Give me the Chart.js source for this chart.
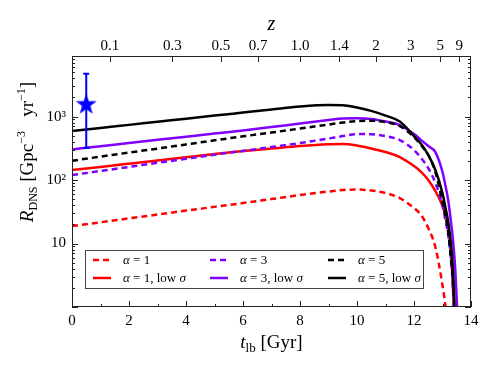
<!DOCTYPE html>
<html lang="en">
<head>
<meta charset="UTF-8">
<title>DNS merger rate vs lookback time</title>
<script src="https://cdn.jsdelivr.net/npm/chart.js"></script>
<style>
  body { margin: 0; background: #fff; }
  #wrap { position: relative; width: 491px; height: 370px; }
</style>
</head>
<body>
<div id="wrap"><canvas id="rate" width="491" height="370"></canvas></div>
<script>
// lookback time grid [Gyr]
const tLb = [0, 1, 2, 3, 4, 5, 6, 7, 8, 9, 9.5, 10, 10.5, 11, 11.5, 12, 12.25, 12.5, 12.75, 13, 13.1, 13.2, 13.3, 13.35, 13.4, 13.45, 13.5, 13.55];

// merger rate [Gpc^-3 yr^-1]
const rateA1    = [18.9, 21.6, 24.9, 28.6, 33, 37.8, 43.4, 50.2, 58, 65.9, 69.6, 70.9, 68.4, 62.4, 52.1, 36.2, 28.1, 17.5, 8.8, 2.2, 1.07, 0.43, 0.2, 0.1, 0.05, 0.03, 0.02, 0.01];
const rateA1Low = [144, 161, 181, 204, 229, 257, 286, 313, 343, 365, 369, 349, 313, 276, 230, 166, 134, 100, 67, 39, 28, 17.5, 6.6, 3.2, 0.9, 0.2, 0.1, 0.05];
const rateA3    = [120, 139, 161, 187, 216, 251, 288, 331, 383, 451, 493, 530, 525, 493, 427, 297, 222, 154, 90, 40, 23.4, 13.6, 5.5, 2.66, 0.9, 0.2, 0.1, 0.05];
const rateA3Low = [304, 342, 383, 430, 482, 540, 604, 684, 777, 881, 931, 937, 914, 834, 735, 529, 426, 343, 276, 134, 83, 48, 21.6, 13.5, 7.8, 3.8, 1.29, 0.3];
const rateA5    = [201, 234, 271, 313, 364, 422, 488, 560, 648, 748, 805, 850, 859, 819, 708, 476, 356, 248, 134, 45, 28, 15.2, 5.5, 3.2, 1.29, 0.3, 0.1, 0.05];
const rateA5Low = [592, 661, 740, 828, 927, 1037, 1156, 1289, 1436, 1517, 1506, 1386, 1230, 1037, 834, 493, 369, 248, 144, 62, 37.6, 21.8, 9.5, 5.1, 1.85, 0.43, 0.1, 0.05];

// observed rate (star) with error bar
const obsT = [0.5];
const obsRate = [1540];
const obsLo = [320];
const obsHi = [4740];

// top axis: redshift labels at their lookback times
const zLabels = ['0.1', '0.3', '0.5', '0.7', '1.0', '1.4', '2', '3', '5', '9'];
const zAtT = [1.33, 3.52, 5.22, 6.53, 8.0, 9.38, 10.67, 11.89, 12.92, 13.59];

const RED = '#ff0000', PURPLE = '#7f00ff', BLACK = '#000000', BLUE = '#0000ff';
const DASH = [6, 4];
const SERIF = "'Liberation Serif', serif";

const pts = vals => tLb.map((t, i) => ({ x: t, y: vals[i] }));

function line(label, vals, color, dash) {
  return {
    label, data: pts(vals), borderColor: color, borderWidth: 2.5,
    borderDash: dash, pointRadius: 0, fill: false,
    cubicInterpolationMode: 'monotone', clip: 0
  };
}

function starImage(size, color) {
  const c = document.createElement('canvas');
  c.width = c.height = size;
  const g = c.getContext('2d');
  const r = size / 2, ri = r * 0.4;
  g.beginPath();
  for (let i = 0; i < 10; i++) {
    const rad = i % 2 ? ri : r;
    const ang = -Math.PI / 2 + i * Math.PI / 5;
    g.lineTo(r + rad * Math.cos(ang), r + rad * Math.sin(ang));
  }
  g.closePath();
  g.fillStyle = color;
  g.fill();
  return c;
}

// text with italic / sub / superscript pieces
function rich(ctx, segs, x, y, align) {
  const fontOf = s => (s.it ? 'italic ' : '') + s.sz + 'px ' + SERIF;
  let w = 0;
  segs.forEach(s => { ctx.font = fontOf(s); w += ctx.measureText(s.t).width; });
  let cx = align === 'center' ? x - w / 2 : x;
  ctx.textAlign = 'left';
  ctx.textBaseline = 'alphabetic';
  segs.forEach(s => {
    ctx.font = fontOf(s);
    ctx.fillText(s.t, cx, y + (s.dy || 0));
    cx += ctx.measureText(s.t).width;
  });
}

const legendRows = [
  [{ name: '1', color: RED, dash: DASH }, { name: '3', color: PURPLE, dash: DASH }, { name: '5', color: BLACK, dash: DASH }],
  [{ name: '1', low: true, color: RED, dash: [] }, { name: '3', low: true, color: PURPLE, dash: [] }, { name: '5', low: true, color: BLACK, dash: [] }]
];
const legendCols = [93, 210, 328];

const decor = {
  id: 'decor',
  beforeDatasetDraw(chart, args) {
    if (chart.data.datasets[args.index].label !== 'obs') return;
    const { ctx, scales: { x, y } } = chart;
    ctx.save();
    ctx.strokeStyle = BLUE;
    ctx.lineWidth = 2;
    obsT.forEach((t, i) => {
      const px = x.getPixelForValue(t);
      const top = y.getPixelForValue(obsHi[i]), bot = y.getPixelForValue(obsLo[i]);
      ctx.beginPath();
      ctx.moveTo(px, top); ctx.lineTo(px, bot);
      ctx.moveTo(px - 3, top); ctx.lineTo(px + 3, top);
      ctx.moveTo(px - 3, bot); ctx.lineTo(px + 3, bot);
      ctx.stroke();
    });
    ctx.restore();
  },
  afterDraw(chart) {
    const { ctx, chartArea: a, scales: { x, y } } = chart;
    ctx.save();
    ctx.strokeStyle = '#222';
    ctx.lineWidth = 1;
    ctx.strokeRect(a.left + 0.5, a.top + 0.5, a.right - a.left - 1, a.bottom - a.top - 1);
    ctx.beginPath();
    for (let t = 0; t <= 14; t++) {
      const px = Math.round(x.getPixelForValue(t)) + 0.5;
      const len = t % 2 ? 3 : 6;
      ctx.moveTo(px, a.bottom); ctx.lineTo(px, a.bottom - len);
    }
    zAtT.forEach(t => {
      const px = Math.round(x.getPixelForValue(t)) + 0.5;
      ctx.moveTo(px, a.top); ctx.lineTo(px, a.top + 6);
    });
    for (let e = 0; e <= 3; e++) {
      for (let k = 1; k <= 9; k++) {
        const v = k * Math.pow(10, e);
        if (v > y.max) break;
        const py = Math.round(y.getPixelForValue(v)) + 0.5;
        const len = k === 1 ? 6 : 3;
        ctx.moveTo(a.left, py); ctx.lineTo(a.left + len, py);
        ctx.moveTo(a.right, py); ctx.lineTo(a.right - len, py);
      }
    }
    ctx.stroke();

    // axis titles
    ctx.fillStyle = '#000';
    rich(ctx, [{ t: 't', it: true, sz: 19 }, { t: 'lb', sz: 13, dy: 4 }, { t: ' [Gyr]', sz: 19 }], (a.left + a.right) / 2, 348, 'center');
    rich(ctx, [{ t: 'z', it: true, sz: 20 }], (a.left + a.right) / 2, 30, 'center');
    ctx.save();
    ctx.translate(33, 152);
    ctx.rotate(-Math.PI / 2);
    rich(ctx, [
      { t: 'R', it: true, sz: 19 }, { t: 'DNS', sz: 12, dy: 4 },
      { t: ' [Gpc', sz: 19 }, { t: '−3', sz: 12, dy: -8 },
      { t: '   yr', sz: 19 }, { t: '−1', sz: 12, dy: -8 }, { t: ']', sz: 19 }
    ], 0, 0, 'center');
    ctx.restore();

    // legend
    ctx.fillStyle = '#fff';
    ctx.fillRect(85.5, 250.5, 338, 38);
    ctx.strokeStyle = '#444';
    ctx.strokeRect(85.5, 250.5, 338, 38);
    ctx.fillStyle = '#000';
    legendRows.forEach((row, r) => {
      const cy = 260 + r * 18;
      row.forEach((it, c) => {
        const x0 = legendCols[c];
        ctx.beginPath();
        ctx.strokeStyle = it.color;
        ctx.lineWidth = 2.5;
        ctx.setLineDash(it.dash);
        ctx.moveTo(x0, cy); ctx.lineTo(x0 + 18, cy);
        ctx.stroke();
        ctx.setLineDash([]);
        const segs = [{ t: 'α', it: true, sz: 13 }, { t: ' = ' + it.name, sz: 13 }];
        if (it.low) segs.push({ t: ', low ', sz: 13 }, { t: 'σ', it: true, sz: 13 });
        rich(ctx, segs, x0 + 30, cy + 4, 'left');
      });
    });
    ctx.restore();
  }
};

Chart.defaults.font.family = SERIF;
Chart.defaults.color = '#000';

new Chart(document.getElementById('rate'), {
  type: 'line',
  data: {
    datasets: [
      line('α = 5, low σ', rateA5Low, BLACK, []),
      line('α = 5', rateA5, BLACK, DASH),
      line('α = 3, low σ', rateA3Low, PURPLE, []),
      line('α = 3', rateA3, PURPLE, DASH),
      line('α = 1, low σ', rateA1Low, RED, []),
      line('α = 1', rateA1, RED, DASH),
      {
        type: 'scatter', label: 'obs', order: -1,
        data: obsT.map((t, i) => ({ x: t, y: obsRate[i] })),
        pointStyle: starImage(22, BLUE), pointRadius: 11, showLine: false
      }
    ]
  },
  options: {
    responsive: false,
    animation: false,
    layout: { padding: { left: 0, right: 20, top: 0, bottom: 0 } },
    plugins: { legend: { display: false }, tooltip: { enabled: false } },
    scales: {
      x: {
        type: 'linear', position: 'bottom', min: 0, max: 14,
        grid: { display: false, drawTicks: false }, border: { display: false },
        ticks: { stepSize: 2, padding: 5, maxRotation: 0, font: { size: 15 } },
        afterFit: s => { s.height = 63; }
      },
      x2: {
        type: 'linear', position: 'top', min: 0, max: 14, display: true,
        grid: { display: false, drawTicks: false }, border: { display: false },
        afterBuildTicks: s => { s.ticks = zAtT.map(v => ({ value: v })); },
        ticks: { autoSkip: false, maxRotation: 0, padding: 1, font: { size: 15 },
          callback: (v, i) => zLabels[i] },
        afterFit: s => { s.height = 56; }
      },
      y: {
        type: 'logarithmic', min: 1, max: 9000, bounds: 'data',
        grid: { display: false, drawTicks: false }, border: { display: false },
        ticks: {
          autoSkip: false, padding: 6, font: { size: 15 },
          callback: v => {
            const e = Math.log10(v);
            if (Math.abs(e - Math.round(e)) > 1e-9) return '';
            return ({ 1: '10', 2: '10²', 3: '10³' })[Math.round(e)] || '';
          }
        },
        afterFit: s => { s.width = 72; }
      }
    }
  },
  plugins: [decor]
});
</script>
</body>
</html>
